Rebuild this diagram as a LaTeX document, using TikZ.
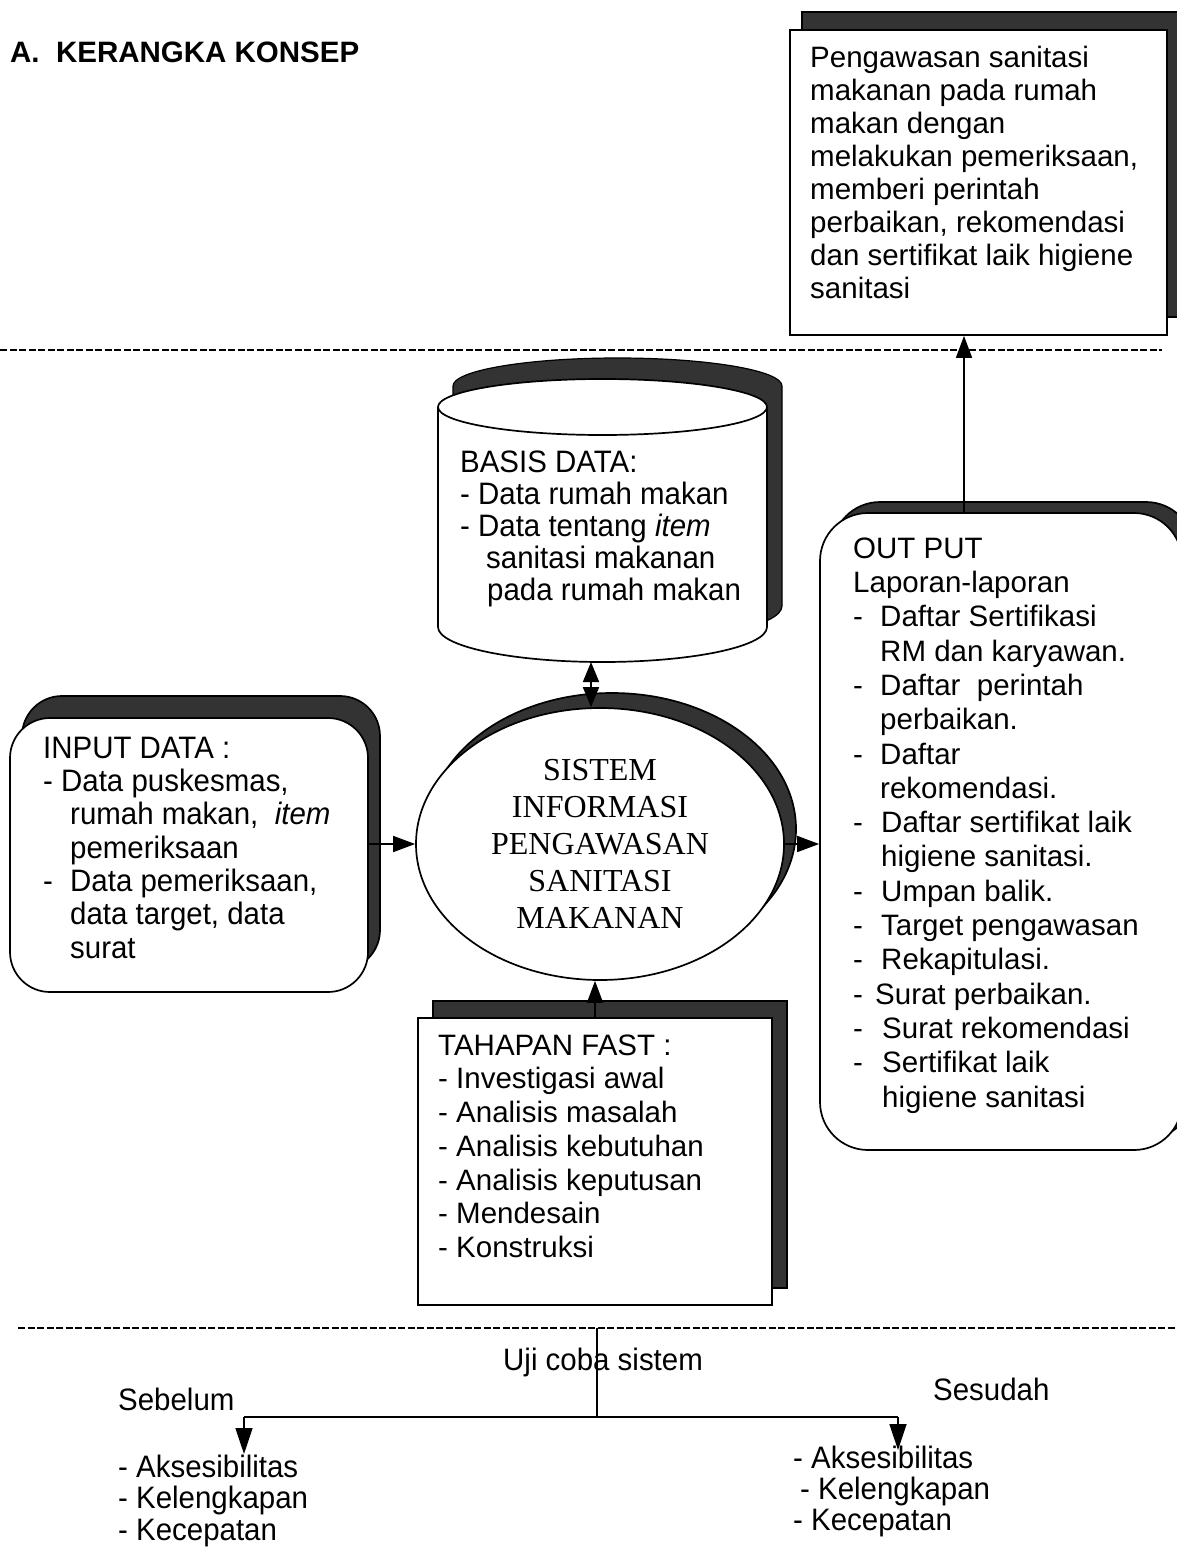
\documentclass[tikz,border=0pt]{standalone}
\usepackage{fontspec}
\setmainfont{Liberation Sans}
\newfontfamily\narrowf[FakeStretch=0.95]{Liberation Sans}
\newfontfamily\timesf{Liberation Serif}
\usetikzlibrary{arrows.meta,shapes.geometric,shadows}
\newcommand{\mystrut}{\rule{0pt}{0.8em}}
\tikzset{
  txt/.style={inner sep=0pt, anchor=north west, align=left},
  reg/.style={font=\fontsize{29.5}{#1}\selectfont},
  nar/.style={font=\narrowf\fontsize{31}{#1}\selectfont},
  frame/.style={draw=black, line width=1.7pt, fill=white, inner sep=0pt},
  shad/.style 2 args={drop shadow={shadow xshift=#1pt, shadow yshift=#2pt, fill=black!80, draw=black, opacity=1}},
  arr/.style={line width=1.7pt, -{Triangle[length=22pt,width=16pt]}},
  bigarr/.style={line width=1.7pt, -{Triangle[length=26pt,width=17pt]}},
  dbl/.style={line width=1.7pt, {Triangle[length=20pt,width=16pt]}-{Triangle[length=20pt,width=16pt]}},
  plain/.style={line width=1.7pt},
  dashline/.style={line width=1.4pt, dash pattern=on 7pt off 2.5pt},
}
\begin{document}
\begin{tikzpicture}[x=1pt,y=-1pt]
\useasboundingbox (0,0) rectangle (1177,1549);
\fill[white] (0,0) rectangle (1177,1549);
\clip (0,0) rectangle (1177,1549);

% title
\node[txt, font=\bfseries\fontsize{29.5}{33}\selectfont] (title) at (10,38.4) {\mystrut A.\ \ KERANGKA KONSEP};

% top right box
\node[frame, shad={12}{18}, minimum width=377pt, minimum height=305pt] (topbox) at (978.5,182.5) {};
\node[txt, reg=33] (toptext) at (810,43.4) {\mystrut Pengawasan sanitasi\\makanan pada rumah\\makan dengan\\melakukan pemeriksaan,\\memberi perintah\\perbaikan, rekomendasi\\dan sertifikat laik higiene\\sanitasi};

% dashed line 1
\coordinate (d1a) at (0,350);
\coordinate (d1b) at (1162,350);
\draw[dashline] (d1a) -- (d1b);

% cylinder (basis data)
\begin{scope}[shift={(15,-21)}]
\path[fill=black!80, draw=black, line width=1.2pt] (438,407) -- (438,627) arc[start angle=180, end angle=0, x radius=164.5, y radius=35] -- (767,407) arc[start angle=0, end angle=-180, x radius=164.5, y radius=28] -- cycle;
\end{scope}
\path[fill=white, draw=black, line width=1.7pt] (438,407) -- (438,627) arc[start angle=180, end angle=0, x radius=164.5, y radius=35] -- (767,407) arc[start angle=0, end angle=-180, x radius=164.5, y radius=28] -- cycle;
\draw[line width=1.7pt] (767,407) arc[start angle=0, end angle=180, x radius=164.5, y radius=28];
\node[txt, nar=32] (cyltext) at (460,447.2) {\mystrut BASIS DATA:\\- Data rumah makan\\- Data tentang \textit{item}\\\hspace*{26pt}sanitasi makanan\\\hspace*{27pt}pada rumah makan};
\coordinate (cylB) at (591,662);

% system ellipse
\node[ellipse, frame, shad={12}{15}, minimum width=368pt, minimum height=272pt, align=center, font=\timesf\fontsize{32}{37}\selectfont] (sys) at (600,844) {SISTEM\\INFORMASI\\PENGAWASAN\\SANITASI\\MAKANAN};

% input box
\node[frame, rounded corners=40pt, shad={12}{22}, minimum width=358pt, minimum height=274pt] (inbox) at (189,855) {};
\node[txt, nar=33.3] (intext) at (43,733.2) {\mystrut INPUT DATA :\\- Data puskesmas,\\\hspace*{27pt}rumah makan,\ \ \textit{item}\\\hspace*{27pt}pemeriksaan\\\makebox[27pt][l]{-}Data pemeriksaan,\\\hspace*{27pt}data target, data\\\hspace*{27pt}surat};

% output box
\node[frame, rounded corners=48pt, shad={12}{11}, minimum width=362pt, minimum height=637pt] (outbox) at (1001,831.5) {};
\node[txt, reg=34.3] (outtext) at (853,534.4) {\mystrut OUT PUT\\Laporan-laporan\\\makebox[27pt][l]{-}Daftar Sertifikasi\\\hspace*{27pt}RM dan karyawan.\\\makebox[27pt][l]{-}Daftar\ \ perintah\\\hspace*{27pt}perbaikan.\\\makebox[27pt][l]{-}Daftar\\\hspace*{27pt}rekomendasi.\\\makebox[28pt][l]{-}Daftar sertifikat laik\\\hspace*{28pt}higiene sanitasi.\\\makebox[28pt][l]{-}Umpan balik.\\\makebox[28pt][l]{-}Target pengawasan\\\makebox[28pt][l]{-}Rekapitulasi.\\\makebox[22pt][l]{-}Surat perbaikan.\\\makebox[29pt][l]{-}Surat rekomendasi\\\makebox[29pt][l]{-}Sertifikat laik\\\hspace*{29pt}higiene sanitasi};

% FAST box
\node[frame, shad={15}{17}, minimum width=354pt, minimum height=287pt] (fastbox) at (595,1161.5) {};
\node[txt, reg=33.7] (fasttext) at (438,1031.4) {\mystrut TAHAPAN FAST :\\- Investigasi awal\\- Analisis masalah\\- Analisis kebutuhan\\- Analisis keputusan\\- Mendesain\\- Konstruksi};

% connectors
\draw[arr] (inbox.east |- sys.west) -- (sys.west);
\draw[arr] (sys.east) -- (sys.east -| outbox.west);
\draw[dbl] (cylB) -- (cylB |- sys.north);
\draw[arr] (fastbox.north) -- (fastbox.north |- sys.south);
\coordinate (upA) at ([xshift=-37pt]outbox.north);
\draw[arr] (upA) -- (upA |- topbox.south);

% dashed line 2
\coordinate (d2a) at (18,1328);
\coordinate (d2b) at (1177,1328);
\draw[dashline] (d2a) -- (d2b);

% bottom section
\node[txt, nar=32] (uji) at (503,1345.2) {\mystrut Uji coba sistem};
\node[txt, nar=32] (sebelum) at (118,1385.2) {\mystrut Sebelum};
\node[txt, nar=32] (sesudah) at (933,1375.2) {\mystrut Sesudah};
\node[txt, nar=31.5] (listL) at (118,1452.2) {\mystrut - Aksesibilitas\\- Kelengkapan\\- Kecepatan};
\node[txt, nar=31] (listR) at (793,1443.2) {\mystrut - Aksesibilitas\\\hspace*{7pt}- Kelengkapan\\- Kecepatan};

\coordinate (ujiTop) at (597,1328);
\coordinate (split) at (597,1417);
\coordinate (splitL) at (244,1417);
\coordinate (splitR) at (898,1417);
\coordinate (sebEnd) at (244,1454);
\coordinate (sesEnd) at (898,1450);
\draw[plain] (ujiTop) -- (split);
\draw[plain] (splitL) -- (splitR);
\draw[bigarr] (splitL) -- (sebEnd);
\draw[bigarr] (splitR) -- (sesEnd);
\end{tikzpicture}
\end{document}
